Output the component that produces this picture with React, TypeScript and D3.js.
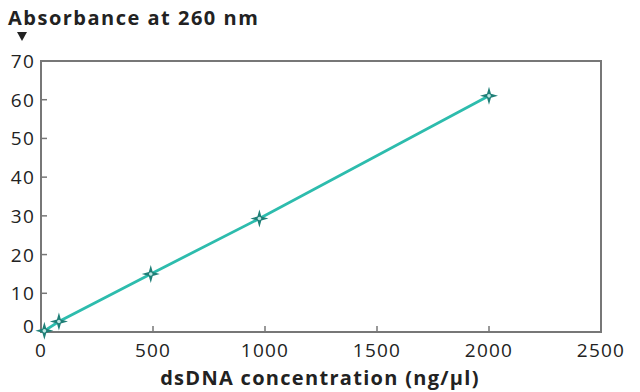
import React from "react";
import * as d3 from "d3";

const concentration = [15, 80, 490, 975, 2000];
const absorbance = [0.3, 2.7, 15, 29.3, 61];
const xTicks = [0, 500, 1000, 1500, 2000, 2500];
const yTicks = [0, 10, 20, 30, 40, 50, 60, 70];
const yTitle = "Absorbance at 260 nm";
const xTitle = "dsDNA concentration (ng/µl)";

const W = 640, H = 392;
const M = { left: 41, right: 39, top: 61, bottom: 60 };

export default function App() {
  const x = d3.scaleLinear().domain([0, 2500]).range([M.left, W - M.right]);
  const y = d3.scaleLinear().domain([0, 70]).range([H - M.bottom, M.top]);
  const pts = concentration.map((c, i) => [x(c), y(absorbance[i])] as [number, number]);
  const line = d3.line()(pts) || "";
  const font = "'Open Sans', sans-serif";
  const star = (s: number) => {
    const a = s, b = s * 0.22;
    return `M0,${-a} L${b},${-b} L${a},0 L${b},${b} L0,${a} L${-b},${b} L${-a},0 L${-b},${-b} Z`;
  };
  return (
    <svg width={W} height={H} style={{ position: "absolute", left: 0, top: 0, background: "#fff" }}>
      <text x={8} y={25} fontFamily={font} fontWeight={700} fontSize={20} letterSpacing={1.5} fill="#222">{yTitle}</text>
      <path d="M17,32 L27,32 L22,41 Z" fill="#222" />
      <rect x={M.left} y={M.top} width={W - M.left - M.right} height={H - M.top - M.bottom} fill="none" stroke="#777" strokeWidth={2} />
      {xTicks.map(t => (
        <g key={"x" + t}>
          <line x1={x(t)} x2={x(t)} y1={y(0)} y2={y(0) - 6} stroke="#777" strokeWidth={1.5} />
          <text x={x(t)} y={357} textAnchor="middle" fontFamily={font} fontSize={19} letterSpacing={1.2} fill="#222">{t}</text>
        </g>
      ))}
      {yTicks.map(t => (
        <g key={"y" + t}>
          <line x1={x(0)} x2={x(0) + 6} y1={y(t)} y2={y(t)} stroke="#777" strokeWidth={1.5} />
          <text x={35} y={y(t) + (t === 0 ? 1 : 7)} textAnchor="end" fontFamily={font} fontSize={19} letterSpacing={1.2} fill="#222">{t}</text>
        </g>
      ))}
      <path d={line} fill="none" stroke="#2dbcad" strokeWidth={2.8} />
      {pts.map((p, i) => (
        <g key={i} transform={`translate(${p[0]},${p[1]})`}>
          <path d={star(9)} fill="#1f7f77" />
          <circle r={1.8} fill="#bfe9e4" />
        </g>
      ))}
      <text x={320} y={385} textAnchor="middle" fontFamily={font} fontWeight={700} fontSize={20} letterSpacing={1.3} fill="#222">{xTitle}</text>
    </svg>
  );
}
